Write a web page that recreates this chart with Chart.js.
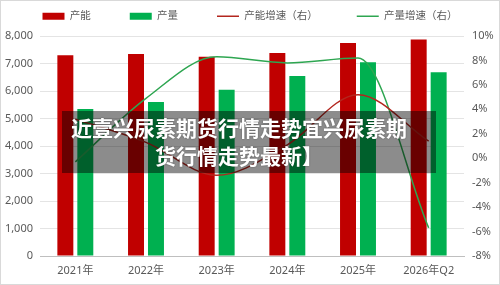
<!DOCTYPE html>
<html>
<head>
<meta charset="utf-8">
<script src="https://cdn.jsdelivr.net/npm/chart.js@4/dist/chart.umd.min.js"></script>
<style>
	body { margin: 0; background: #fff; }
	#wrap { position: relative; width: 500px; height: 285px; box-sizing: border-box; border: 1px solid #d9d9d9; }
	#overlay {
		position: absolute; left: 61px; top: 110px; width: 374px; height: 62px;
		background: rgba(0, 0, 0, 0.45);
		color: #fff; font-family: "Noto Sans CJK SC", sans-serif; font-weight: bold;
		font-size: 21px; line-height: 28px; text-align: center;
		padding: 2px 20px 0 0; box-sizing: border-box;
		text-shadow: 0 0 2px rgba(0,0,0,0.4);
	}
</style>
</head>
<body>
<div id="wrap">
	<canvas id="chart"></canvas>
	<div id="overlay">近壹兴尿素期货行情走势宜兴尿素期<br>货行情走势最新】</div>
</div>
<script>
let categories = ['2021年', '2022年', '2023年', '2024年', '2025年', '2026年Q2'];
let capacity = [7300, 7350, 7250, 7380, 7750, 7870];
let output = [5350, 5600, 6050, 6550, 7050, 6680];
let capacityGrowth = [3.2, 1.3, -1.4, 1.1, 5.2, 1.4];
let outputGrowth = [-0.3, 4.9, 8.3, 7.8, 8.2, -5.7];
let leftTicks = [0, 8000, 1000];
let rightTicks = [-8, 10, 2];

const font = '"Noto Sans", "Noto Sans CJK SC", sans-serif';
const grey = '#595959';

// legend sits higher than chart.js wants with big item padding
const legendFix = {
	id: 'legendFix',
	beforeLayout(chart) {
		let lg = chart.legend;
		if (lg && !lg._patched) {
			let fit = lg.fit;
			lg.fit = function() {
				fit.call(this);
				this.height = 35;
			};
			lg._patched = true;
		}
	},
	afterLayout(chart) {
		chart.legend.top = -29;
	}
};

let ctx = document.getElementById('chart').getContext('2d');
let chart = new Chart(ctx, {
	data: {
		labels: categories,
		datasets: [{
			type: 'bar',
			label: '产能',
			data: capacity,
			backgroundColor: '#c00000',
			borderWidth: 0,
			yAxisID: 'y',
			order: 2,
			categoryPercentage: 0.565,
			barPercentage: 0.8
		}, {
			type: 'bar',
			label: '产量',
			data: output,
			backgroundColor: '#00b050',
			borderWidth: 0,
			yAxisID: 'y',
			order: 2,
			categoryPercentage: 0.565,
			barPercentage: 0.8
		}, {
			type: 'line',
			label: '产能增速（右）',
			data: capacityGrowth,
			borderColor: '#b3261e',
			backgroundColor: '#b3261e',
			borderWidth: 1.5,
			pointRadius: 0,
			cubicInterpolationMode: 'monotone',
			yAxisID: 'y1',
			order: 1
		}, {
			type: 'line',
			label: '产量增速（右）',
			data: outputGrowth,
			borderColor: '#2ea651',
			backgroundColor: '#2ea651',
			borderWidth: 1.5,
			pointRadius: 0,
			cubicInterpolationMode: 'monotone',
			yAxisID: 'y1',
			order: 1
		}]
	},
	options: {
		responsive: true,
		maintainAspectRatio: false,
		animation: false,
		layout: { padding: 0 },
		plugins: {
			tooltip: { enabled: false },
			legend: {
				display: true,
				position: 'top',
				labels: {
					usePointStyle: true,
					pointStyleWidth: 22,
					boxHeight: 7,
					padding: 39,
					color: grey,
					font: { family: font, size: 10.5 },
					sort: (a, b) => a.datasetIndex - b.datasetIndex,
					generateLabels: function(chart) {
						let items = Chart.defaults.plugins.legend.labels.generateLabels(chart);
						for (let it of items) {
							let ds = chart.data.datasets[it.datasetIndex];
							if (ds.type === 'line') {
								it.pointStyle = 'line';
								it.lineWidth = 1.5;
								it.strokeStyle = ds.borderColor;
							} else {
								it.pointStyle = 'rect';
								it.lineWidth = 0;
							}
							it.rotation = 0;
						}
						return items;
					}
				}
			}
		},
		scales: {
			x: {
				grid: { display: false, drawTicks: false },
				border: { display: true, color: '#bfbfbf' },
				ticks: { color: grey, font: { family: font, size: 11 }, padding: 8, maxRotation: 0 },
				afterFit: (s) => { s.height = 28; }
			},
			y: {
				position: 'left',
				min: leftTicks[0],
				max: leftTicks[1],
				ticks: { stepSize: leftTicks[2], color: grey, font: { family: font, size: 11 }, padding: 7 },
				grid: { color: '#e4e4e4', drawTicks: false },
				border: { display: false },
				afterFit: (s) => { s.width = 39; }
			},
			y1: {
				position: 'right',
				min: rightTicks[0],
				max: rightTicks[1],
				ticks: {
					stepSize: rightTicks[2],
					color: grey,
					font: { family: font, size: 11 },
					padding: 8,
					callback: (v) => v + '%'
				},
				grid: { display: false, drawTicks: false },
				border: { display: false },
				afterFit: (s) => { s.width = 35; }
			}
		}
	},
	plugins: [legendFix]
});
</script>
</body>
</html>
